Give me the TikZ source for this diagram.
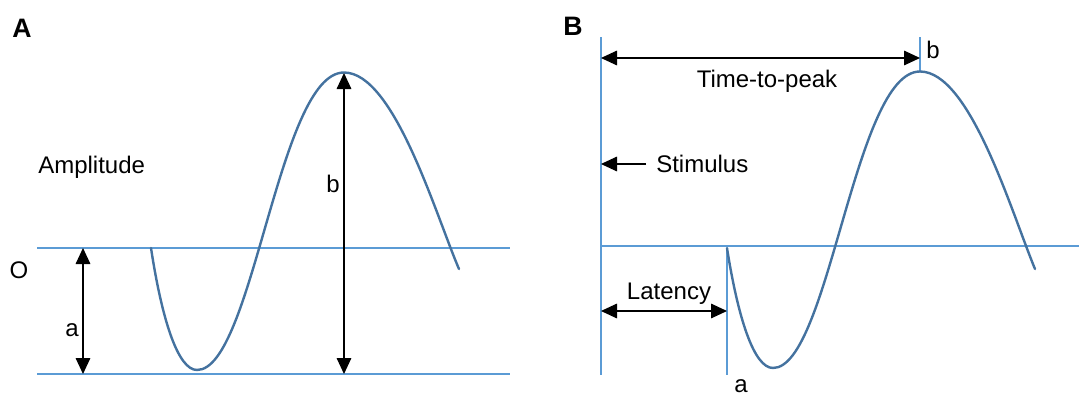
\documentclass[tikz,border=0pt]{standalone}
\usepackage{fontspec}
\setmainfont{Liberation Sans}
\usetikzlibrary{arrows.meta}
\definecolor{curveblue}{HTML}{44729F}
\definecolor{lineblue}{HTML}{5B9BD5}
\begin{document}
\begin{tikzpicture}[x=0.75pt,y=-0.75pt,
  guide/.style={draw=lineblue,line width=0.8pt},
  wave/.style={draw=curveblue,line width=1.8pt,line cap=round,line join=round},
  dim/.style={draw=black,line width=0.8pt},
  onehead/.style={dim,-{Triangle[length=12pt,width=11pt]}},
  twohead/.style={dim,{Triangle[length=12pt,width=11pt]}-{Triangle[length=12pt,width=11pt]}},
  lbl/.style={inner sep=0pt,font=\fontsize{18pt}{21pt}\selectfont},
  panel/.style={inner sep=0pt,font=\fontsize{20pt}{24pt}\selectfont\bfseries}]
\useasboundingbox (0,0) rectangle (1079,396);

% ---------- Panel A ----------
\node[panel] (labA) at (22,28) {A};
\node[lbl,anchor=west] (amp) at (38,167) {Amplitude};
\node[lbl] (origin) at (19,270) {O};

\coordinate (aL1) at (37,248);  \coordinate (aR1) at (510,248);
\coordinate (aL2) at (37,374);  \coordinate (aR2) at (510,374);
\draw[guide] (aL1) -- (aR1);
\draw[guide] (aL2) -- (aR2);

\draw[wave] (151,248) .. controls (162,320) and (178,370) .. (197,370)
  .. controls (253,370) and (278.5,72.5) .. (344,72.5)
  .. controls (394,72.5) and (435.4,213.9) .. (459,269);

\coordinate (aTop) at (83,248); \coordinate (aBot) at (83,374);
\draw[twohead] (aTop) -- (aBot);
\node[lbl] (la) at (72,330) {a};

\coordinate (bTop) at (344,73); \coordinate (bBot) at (344,374);
\draw[twohead] (bTop) -- (bBot);
\node[lbl] (lb) at (333,184) {b};

% ---------- Panel B ----------
\node[panel] (labB) at (573,26) {B};

\coordinate (sTop) at (601,37); \coordinate (sBot) at (601,375);
\draw[guide] (sTop) -- (sBot);
\coordinate (baseL) at (601,246); \coordinate (baseR) at (1079,246);
\draw[guide] (baseL) -- (baseR);
\coordinate (latTop) at (727,248); \coordinate (latBot) at (727,375);
\draw[guide] (latTop) -- (latBot);
\coordinate (pkTop) at (920,37); \coordinate (pkBot) at (920,72);
\draw[guide] (pkTop) -- (pkBot);

\begin{scope}[shift={(576,-2)}]
\draw[wave] (151,250) .. controls (162,320) and (178,370) .. (197,370)
  .. controls (253,370) and (278.5,73.5) .. (344,73.5)
  .. controls (394,73.5) and (435.4,213.9) .. (459,271);
\end{scope}

\coordinate (ttpL) at (601,58); \coordinate (ttpR) at (920,58);
\draw[twohead] (ttpL) -- (ttpR);
\node[lbl] (ttp) at (767,81) {Time-to-peak};
\node[lbl] (lbB) at (933,50) {b};

\node[lbl,anchor=west] (stim) at (656,164) {Stimulus};
\coordinate (stimTip) at (601,164); \coordinate (stimTail) at (646,164);
\draw[onehead] (stimTail) -- (stimTip);

\coordinate (latL) at (601,311); \coordinate (latR) at (727,311);
\draw[twohead] (latL) -- (latR);
\node[lbl] (lat) at (669,294) {Latency};
\node[lbl] (laB) at (741,386) {a};
\end{tikzpicture}
\end{document}
